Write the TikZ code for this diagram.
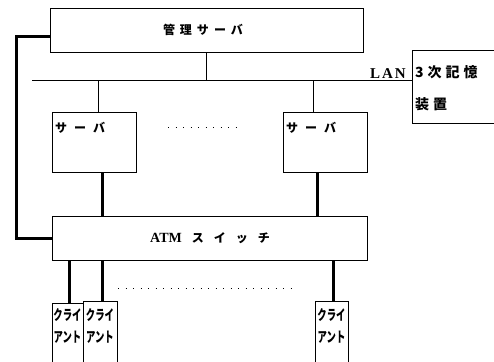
\documentclass[tikz,border=0pt]{standalone}
\usepackage{fontspec}
\setmainfont{Liberation Serif}
\newfontfamily\jp{Noto Sans CJK JP}
\newcommand{\jg}[1]{\hspace{#1pt}}
\begin{document}
\begin{tikzpicture}[x=1pt,y=-1pt,
  box/.style={draw, line width=0.9pt, inner sep=0pt},
  thinl/.style={line width=0.9pt},
  heavy/.style={line width=3pt},
  dots/.style={line width=1pt, dash pattern=on 1.2pt off 6.3pt},
  lbl/.style={inner sep=0pt, font=\jp\bfseries\fontsize{12}{14}\selectfont},
  clbl/.style={inner sep=0pt, font=\jp\bfseries\fontsize{13}{15}\selectfont}]
\useasboundingbox (0,0) rectangle (494,361);
% boxes
\node[box, minimum width=313pt, minimum height=44pt] (mgmt) at (206.5,30) {};
\node[lbl] (mgmtt) at (203,30) {管\jg{5}理\jg{5}サ\jg{5}ー\jg{5}バ};
\node[box, minimum width=82pt, minimum height=73pt] (store) at (453,86.5) {};
\node[lbl, anchor=west, font=\jp\bfseries\fontsize{14}{16}\selectfont] (st1) at (415,72) {3\jg{4}次\jg{4}記\jg{4}憶};
\node[lbl, anchor=west, font=\jp\bfseries\fontsize{14}{16}\selectfont] (st2) at (415,104) {装\jg{4}置};
\node[box, minimum width=84pt, minimum height=60pt] (s1) at (94,142) {};
\node[box, minimum width=84pt, minimum height=60pt] (s2) at (325,142) {};
\node[lbl, anchor=west] (s1t) at (55,128) {サ\jg{7}ー\jg{7}バ};
\node[lbl, anchor=west] (s2t) at (286,128) {サ\jg{7}ー\jg{7}バ};
\node[box, minimum width=315pt, minimum height=44pt] (atm) at (209.5,238) {};
\node[inner sep=0pt] (atmt) at (210,238) {\bfseries\fontsize{14}{16}\selectfont ATM\jg{10}\jp\bfseries\fontsize{12}{14}\selectfont ス\jg{10}イ\jg{10}ッ\jg{10}チ};
% clients
\node[box, minimum width=31pt, minimum height=70pt, anchor=north] (c1) at (67.5,303) {};
\node[box, minimum width=34pt, minimum height=72pt, anchor=north] (c2) at (100,301) {};
\node[box, minimum width=33pt, minimum height=72pt, anchor=north] (c3) at (331.5,301) {};
\node[clbl] (c1a) at (67.5,315) {\scalebox{0.72}[1.1]{クライ}};
\node[clbl] (c1b) at (67.5,337) {\scalebox{0.72}[1.1]{アント}};
\node[clbl] (c2a) at (100,315) {\scalebox{0.72}[1.1]{クライ}};
\node[clbl] (c2b) at (100,337) {\scalebox{0.72}[1.1]{アント}};
\node[clbl] (c3a) at (331.5,315) {\scalebox{0.72}[1.1]{クライ}};
\node[clbl] (c3b) at (331.5,337) {\scalebox{0.72}[1.1]{アント}};
% LAN
\coordinate (lanL) at (32,80);
\draw[thinl] (lanL) -- (lanL -| store.west);
\node[anchor=base east, inner sep=0pt] (lan) at (406,78.5) {\bfseries\fontsize{15}{17}\selectfont L\jg{2}A\jg{2}N};
\draw[thinl] (mgmt.south) -- (mgmt.south |- lanL);
\draw[thinl] ([xshift=4pt]s1.north |- lanL) -- ([xshift=4pt]s1.north);
\draw[thinl] ([xshift=-12pt]s2.north |- lanL) -- ([xshift=-12pt]s2.north);
% heavy links
\coordinate (k1) at (16,37);
\draw[heavy] (k1 -| mgmt.west) -- (k1) |- (atm.west);
\draw[heavy] ([xshift=8pt]s1.south) -- ([xshift=8pt]s1.south |- atm.north);
\draw[heavy] ([xshift=-8pt]s2.south) -- ([xshift=-8pt]s2.south |- atm.north);
\draw[heavy] ([xshift=1.5pt]c1.north) -- ([xshift=1.5pt]c1.north |- atm.south);
\draw[heavy] ([xshift=2pt]c2.north) -- ([xshift=2pt]c2.north |- atm.south);
\draw[heavy] ([xshift=1.5pt]c3.north) -- ([xshift=1.5pt]c3.north |- atm.south);
% dots
\coordinate (d1) at (168,127);
\coordinate (d2) at (236,127);
\draw[dots] (d1) -- (d2);
\coordinate (d3) at (118,288);
\coordinate (d4) at (297,288);
\draw[dots] (d3) -- (d4);
\end{tikzpicture}
\end{document}
